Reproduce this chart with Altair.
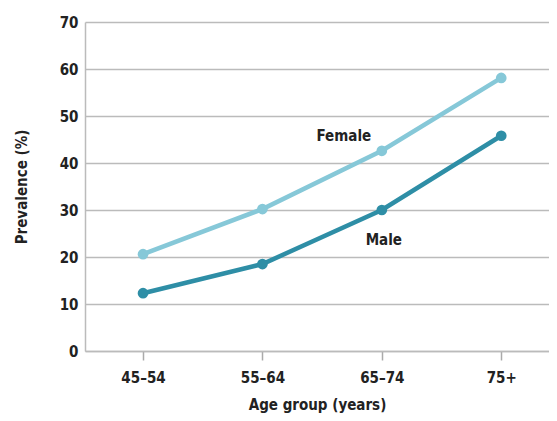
import altair as alt
import pandas as pd

ages = ["45–54", "55–64", "65–74", "75+"]
female = [20.6, 30.2, 42.6, 58.1]
male = [12.3, 18.5, 30.0, 45.8]

rows = []
for i, (a, f, m) in enumerate(zip(ages, female, male)):
    rows.append({"idx": i, "age": a, "sex": "Female", "value": f})
    rows.append({"idx": i, "age": a, "sex": "Male", "value": m})
df = pd.DataFrame(rows)

label_idx = [2, 2]
label_names = ["Female", "Male"]
label_values = [45.7, 23.6]
labels = pd.DataFrame({"idx": label_idx, "sex": label_names, "value": label_values})

FONT = "DejaVu Sans Condensed, Liberation Sans, sans-serif"
colors = alt.Scale(domain=["Female", "Male"], range=["#86c8d8", "#2e8ea6"])

label_expr = "[" + ",".join("'%s'" % a for a in ages) + "][datum.value]"

x = alt.X("idx:Q", scale=alt.Scale(domain=[-0.486, 3.4], nice=False, zero=False),
          axis=alt.Axis(title="Age group (years)", values=[0, 1, 2, 3], labelExpr=label_expr,
                        labelAngle=0, tickColor="#aaaaaa",
                        tickSize=9, tickWidth=1.5, domainColor="#bbbbbb", domainWidth=1.5,
                        labelPadding=10, titlePadding=12, grid=False))
y = alt.Y("value:Q", scale=alt.Scale(domain=[0, 70], nice=False),
          axis=alt.Axis(title="Prevalence (%)", values=list(range(0, 71, 10)), ticks=False,
                        gridColor="#bbbbbb", gridWidth=1.5, domainColor="#bbbbbb",
                        domainWidth=1.5, labelPadding=7, titlePadding=30))

lines = alt.Chart(df).mark_line(strokeWidth=4.5).encode(
    x=x, y=y, color=alt.Color("sex:N", scale=colors, legend=None), detail="sex:N")
points = alt.Chart(df).mark_circle(size=115, opacity=1).encode(
    x="idx:Q", y="value:Q",
    color=alt.Color("sex:N", scale=colors, legend=None))

text_f = alt.Chart(labels[labels.sex == "Female"]).mark_text(
    font=FONT, fontWeight="bold", fontSize=15, color="#222222", dx=-38).encode(
    x="idx:Q", y="value:Q", text="sex:N")
text_m = alt.Chart(labels[labels.sex == "Male"]).mark_text(
    font=FONT, fontWeight="bold", fontSize=15, color="#222222", dx=2).encode(
    x="idx:Q", y="value:Q", text="sex:N")

chart = alt.layer(lines, points, text_f, text_m).properties(
    width=464, height=329,
    autosize=alt.AutoSizeParams(type="none"),
    padding={"left": 77, "top": 14, "right": 0, "bottom": 62},
).configure_axis(
    labelFont=FONT, labelFontSize=15, labelFontWeight="bold", labelColor="#222222",
    titleFont=FONT, titleFontSize=15, titleFontWeight="bold", titleColor="#222222",
).configure_view(stroke=None)

chart.save("out.html", embed_options={"renderer": "svg", "actions": False})
